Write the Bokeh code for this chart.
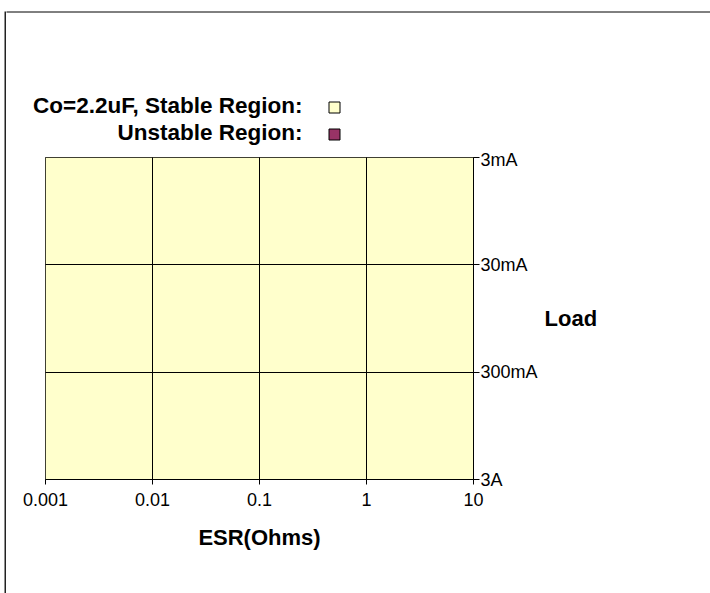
from bokeh.plotting import figure
from bokeh.models import Range1d, FixedTicker, Spacer
from bokeh.layouts import row, column
from bokeh.core.properties import value
from bokeh.embed import file_html
from bokeh.resources import INLINE

# ---- data ----
esr_ticks = [0.001, 0.01, 0.1, 1, 10]
esr_labels = ["0.001", "0.01", "0.1", "1", "10"]
load_ticks_mA = [3, 30, 300, 3000]
load_labels = ["3mA", "30mA", "300mA", "3A"]

# stability map cells (ESR decade x Load decade): 1 = stable, 0 = unstable
cell_esr_lo = [0.001, 0.01, 0.1, 1] * 3
cell_esr_hi = [0.01, 0.1, 1, 10] * 3
cell_load_lo = [3] * 4 + [30] * 4 + [300] * 4
cell_load_hi = [30] * 4 + [300] * 4 + [3000] * 4
cell_stable = [1] * 12

legend_texts = ["Co=2.2uF, Stable Region:", "Unstable Region:"]
stable_color = "#FFFFCC"
unstable_color = "#993366"
legend_colors = [stable_color, unstable_color]
FONT = "Liberation Sans"


def blank(fig):
    fig.xaxis.visible = False
    fig.yaxis.visible = False
    fig.xgrid.visible = False
    fig.ygrid.visible = False
    fig.outline_line_color = None
    fig.min_border = 0
    fig.frame_align = False
    return fig


# ---- left border strip ----
strip = figure(width=2, height=582, output_backend="svg", toolbar_location=None,
               x_range=Range1d(0, 1), y_range=Range1d(0, 1),
               min_border=0, x_axis_location=None, y_axis_location=None)
blank(strip)
strip.background_fill_color = "#222222"
strip.border_fill_color = "#222222"

# ---- legend panel (pixel coordinates, y from top) ----
TOP_W, TOP_H = 704, 149
top = figure(width=TOP_W, height=TOP_H, output_backend="svg", toolbar_location=None,
             x_range=Range1d(0, TOP_W), y_range=Range1d(TOP_H, 0),
             min_border=0, x_axis_location=None, y_axis_location=None)
blank(top)
top.segment(x0=[-5], y0=[11.5], x1=[TOP_W + 5], y1=[11.5], line_color="black", line_width=1)
leg_y = [105, 132]
top.text(x=[296, 296], y=leg_y, text=legend_texts,
         text_align="right", text_baseline="middle",
         text_font=value(FONT), text_font_style="bold", text_font_size="22.5px",
         text_color="black")
top.quad(left=[322.5, 322.5], right=[333.5, 333.5],
         top=[y - 3.5 for y in leg_y], bottom=[y + 7.5 for y in leg_y],
         fill_color=legend_colors, line_color="black", line_width=1)

# ---- main chart ----
p = figure(
    width=704, height=444,
    x_axis_type="log", y_axis_type="log",
    x_range=Range1d(0.001, 10),
    y_range=Range1d(3000, 3),
    y_axis_location="right",
    output_backend="svg", toolbar_location=None, title=None,
    min_border_left=39, min_border_right=237,
    min_border_top=8, min_border_bottom=114,
)
p.frame_align = False
p.background_fill_color = "white"
p.border_fill_color = "white"
p.outline_line_color = "black"
p.outline_line_width = 1

colors = [stable_color if s else unstable_color for s in cell_stable]
p.quad(left=cell_esr_lo, right=cell_esr_hi, bottom=cell_load_hi, top=cell_load_lo,
       fill_color=colors, line_color=None)

xa = p.xaxis[0]
xa.ticker = FixedTicker(ticks=esr_ticks)
xa.major_label_overrides = {t: l for t, l in zip(esr_ticks, esr_labels)}
xa.minor_tick_line_color = None
xa.major_tick_in = 0
xa.major_tick_out = 5
xa.axis_line_color = "black"
xa.major_tick_line_color = "black"
xa.major_label_text_font = FONT
xa.major_label_text_font_size = "18px"
xa.major_label_text_color = "black"
xa.major_label_standoff = 8
xa.axis_label = "ESR(Ohms)"
xa.axis_label_text_font = FONT
xa.axis_label_text_font_style = "bold"
xa.axis_label_text_font_size = "22px"
xa.axis_label_text_color = "black"
xa.axis_label_standoff = 16

ya = p.yaxis[0]
ya.ticker = FixedTicker(ticks=load_ticks_mA)
ya.major_label_overrides = {t: l for t, l in zip(load_ticks_mA, load_labels)}
ya.minor_tick_line_color = None
ya.major_tick_in = 0
ya.major_tick_out = 6
ya.axis_line_color = "black"
ya.major_tick_line_color = "black"
ya.major_label_text_font = FONT
ya.major_label_text_font_size = "18px"
ya.major_label_text_color = "black"
ya.major_label_standoff = 1
ya.axis_label = "Load"
ya.axis_label_orientation = "horizontal"
ya.axis_label_text_font = FONT
ya.axis_label_text_font_style = "bold"
ya.axis_label_text_font_size = "22px"
ya.axis_label_text_color = "black"
ya.axis_label_standoff = 4

for g in (p.xgrid[0], p.ygrid[0]):
    g.grid_line_color = "black"
    g.grid_line_alpha = 1.0
    g.grid_line_width = 1
    g.level = "overlay"

layout = row(Spacer(width=4, height=593),
             column(Spacer(width=2, height=11), strip, spacing=0),
             column(top, p, spacing=0),
             spacing=0)

open("out.html", "w").write(file_html(layout, INLINE))
